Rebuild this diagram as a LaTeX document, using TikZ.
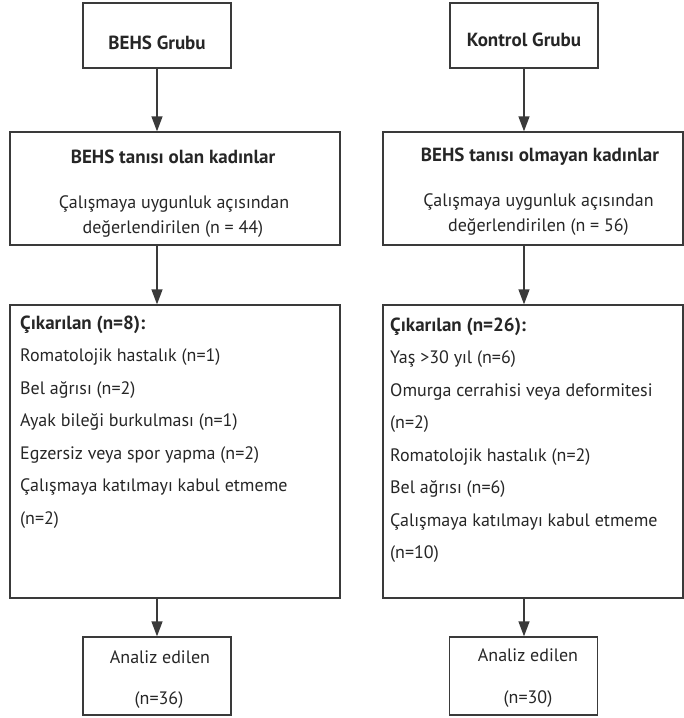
\documentclass[tikz,border=0pt]{standalone}
\usepackage{fontspec}
\setmainfont{PT Sans}
\usetikzlibrary{arrows.meta}
\definecolor{linec}{HTML}{3A3A3A}
\definecolor{textc}{HTML}{262626}
\tikzset{
  box/.style={draw=linec, line width=1.3pt, inner sep=0pt, rectangle},
  txt/.style={text=textc, inner sep=0pt, font=\fontsize{18}{21}\selectfont},
  btxt/.style={text=textc, inner sep=0pt, font=\fontsize{19}{22}\selectfont\bfseries},
  arr/.style={draw=linec, line width=1.3pt, -{Triangle[length=15pt,width=11pt]}}
}
\begin{document}
\begin{tikzpicture}[x=1pt,y=-1pt]
\useasboundingbox (0,0) rectangle (684,718);
% boxes
\node[box, minimum width=148pt, minimum height=65pt] (b1) at (157,35.5) {};
\node[box, minimum width=148pt, minimum height=65pt] (k1) at (524,35.5) {};
\node[box, minimum width=330pt, minimum height=113pt] (b2) at (175,188.5) {};
\node[box, minimum width=300pt, minimum height=113pt] (k2) at (533,188.5) {};
\node[box, minimum width=330pt, minimum height=293pt] (b3) at (175,451.5) {};
\node[box, minimum width=300pt, minimum height=293pt] (k3) at (533,451.5) {};
\node[box, minimum width=148pt, minimum height=78pt] (b4) at (157,676) {};
\node[box, minimum width=148pt, minimum height=78pt] (k4) at (523.5,676) {};
% arrows
\draw[arr] (b1.south) -- (b1.south |- b2.north);
\draw[arr] (k1.south) -- (k1.south |- k2.north);
\draw[arr] (b1.south |- b2.south) -- (b1.south |- b3.north);
\draw[arr] (k1.south |- k2.south) -- (k1.south |- k3.north);
\draw[arr] (b4.north |- b3.south) -- (b4.north);
\draw[arr] (k1.south |- k3.south) -- (k1.south |- k4.north);
% texts top
\node[btxt, anchor=base] (t1) at (157,49) {BEHS Grubu};
\node[btxt, anchor=base] (t2) at (524,46) {Kontrol Grubu};
% box2 texts
\node[btxt, anchor=base] (t3) at (173,163) {BEHS tanısı olan kadınlar};
\node[txt, anchor=base] (t4) at (174,208) {Çalışmaya uygunluk açısından};
\node[txt, anchor=base] (t5) at (173,233) {değerlendirilen (n = 44)};
\node[btxt, anchor=base] (t6) at (540,161) {BEHS tanısı olmayan kadınlar};
\node[txt, anchor=base] (t7) at (538.5,206) {Çalışmaya uygunluk açısından};
\node[txt, anchor=base] (t8) at (538.5,231) {değerlendirilen (n = 56)};
% box3 left
\node[btxt, anchor=base west] (l1) at (20,329) {Çıkarılan (n=8):};
\node[txt, anchor=base west] (l2) at (20,361.5) {Romatolojik hastalık (n=1)};
\node[txt, anchor=base west] (l3) at (20,394) {Bel ağrısı (n=2)};
\node[txt, anchor=base west] (l4) at (20,426.5) {Ayak bileği burkulması (n=1)};
\node[txt, anchor=base west] (l5) at (20,459) {Egzersiz veya spor yapma (n=2)};
\node[txt, anchor=base west] (l6) at (20,491.5) {Çalışmaya katılmayı kabul etmeme};
\node[txt, anchor=base west] (l7) at (20,524) {(n=2)};
% box3 right
\node[btxt, anchor=base west] (r1) at (390,331) {Çıkarılan (n=26):};
\node[txt, anchor=base west] (r2) at (390,363.5) {Yaş >30 yıl (n=6)};
\node[txt, anchor=base west] (r3) at (390,396) {Omurga cerrahisi veya deformitesi};
\node[txt, anchor=base west] (r4) at (390,428.5) {(n=2)};
\node[txt, anchor=base west] (r5) at (390,461) {Romatolojik hastalık (n=2)};
\node[txt, anchor=base west] (r6) at (390,493.5) {Bel ağrısı (n=6)};
\node[txt, anchor=base west] (r7) at (390,526) {Çalışmaya katılmayı kabul etmeme};
\node[txt, anchor=base west] (r8) at (390,558.5) {(n=10)};
% box4
\node[txt, anchor=base] (a1) at (160,663) {Analiz edilen};
\node[txt, anchor=base] (a2) at (159,704) {(n=36)};
\node[txt, anchor=base] (a3) at (528,661) {Analiz edilen};
\node[txt, anchor=base] (a4) at (528,703) {(n=30)};
\end{tikzpicture}
\end{document}
